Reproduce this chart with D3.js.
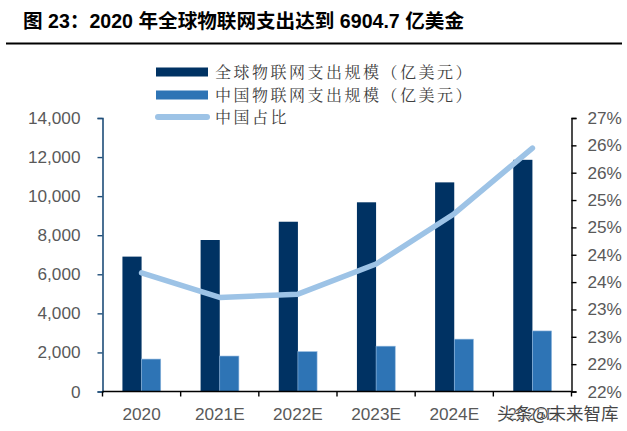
<!DOCTYPE html>
<html><head><meta charset="utf-8">
<script src="https://cdn.jsdelivr.net/npm/d3@7"></script>
<style>
html,body{margin:0;padding:0;background:#fff;}
svg{display:block;}
</style></head>
<body>
<svg id="chart" width="627" height="431"></svg>
<script>
const categories = ["2020", "2021E", "2022E", "2023E", "2024E", "2025E"];
const globalSpend = [6904.7, 7755, 8690, 9685, 10705, 11860];
const chinaSpend = [1660, 1815, 2040, 2320, 2680, 3100];
const chinaShare = [0.2417, 0.2372, 0.2378, 0.2433, 0.2525, 0.2645];
const leftTicks = [0, 2000, 4000, 6000, 8000, 10000, 12000, 14000];
const rightTicks = [0.22, 0.225, 0.23, 0.235, 0.24, 0.245, 0.25, 0.255, 0.26, 0.265, 0.27];
const rightTickLabels = ["22%", "22%", "23%", "23%", "24%", "24%", "25%", "25%", "26%", "26%", "27%"];
const seriesNames = ["全球物联网支出规模（亿美元）", "中国物联网支出规模（亿美元）", "中国占比"];
const titleText = "图 23：2020 年全球物联网支出达到 6904.7 亿美金";
const watermark = "头条@未来智库";

const C_DARK = "#003263", C_MID = "#2E74B5", C_LINE = "#9DC3E6", C_TXT = "#595959";
const svg = d3.select("#chart");
const L = 102.5, R = 571.5, T = 118, B = 391.5;

// title
svg.append("text").attr("x", 23).attr("y", 28)
  .attr("font-family", "Liberation Sans, Arial, 'Noto Sans CJK SC', sans-serif")
  .attr("font-weight", "bold").attr("font-size", 19.6).attr("fill", "#000")
  .text(titleText);
svg.append("line").attr("x1", 6).attr("x2", 622).attr("y1", 43.5).attr("y2", 43.5)
  .attr("stroke", "#000").attr("stroke-width", 2.2);

const x = d3.scaleBand().domain(categories).range([L, R]).paddingInner(0).paddingOuter(0);
const yL = d3.scaleLinear().domain([0, 14000]).range([B, T]);
const yR = d3.scaleLinear().domain([0.22, 0.27]).range([B, T]);
const bw = x.bandwidth() * 0.245;

const font = "Liberation Sans, Arial, sans-serif";
const fs = 17.2;

// bars
svg.append("g").selectAll("rect").data(categories).join("rect")
  .attr("x", d => x(d) + x.bandwidth() / 2 - bw)
  .attr("y", (d, i) => yL(globalSpend[i]))
  .attr("width", bw).attr("height", (d, i) => B - yL(globalSpend[i]))
  .attr("fill", C_DARK);
svg.append("g").selectAll("rect").data(categories).join("rect")
  .attr("x", d => x(d) + x.bandwidth() / 2)
  .attr("y", (d, i) => yL(chinaSpend[i]))
  .attr("width", bw).attr("height", (d, i) => B - yL(chinaSpend[i]))
  .attr("fill", C_MID).attr("stroke", "#8fb6de").attr("stroke-width", 0.6);

// left axis
const gL = svg.append("g").attr("transform", `translate(${L},0)`)
  .call(d3.axisLeft(yL).tickValues(leftTicks).tickFormat(d3.format(",")).tickSize(5).tickPadding(17));
gL.select(".domain").attr("stroke", "#1F4E79").attr("stroke-width", 1.6);
gL.selectAll(".tick line").attr("stroke", "#1F4E79").attr("stroke-width", 1.4);
gL.selectAll("text").attr("font-family", font).attr("font-size", fs).attr("fill", C_TXT);

// right axis
const gR = svg.append("g").attr("transform", `translate(${R},0)`)
  .call(d3.axisRight(yR).tickValues(rightTicks).tickFormat((d, i) => rightTickLabels[i]).tickSize(5).tickPadding(11));
gR.select(".domain").attr("stroke", "#000").attr("stroke-width", 1.4);
gR.selectAll(".tick line").attr("stroke", "#000").attr("stroke-width", 1.4);
gR.selectAll("text").attr("font-family", font).attr("font-size", fs).attr("fill", C_TXT);

// bottom axis
const gB = svg.append("g").attr("transform", `translate(0,${B})`);
gB.append("line").attr("x1", L).attr("x2", R).attr("stroke", "#000").attr("stroke-width", 1.4);
const bounds = categories.map(c => x(c)).concat([R]);
gB.selectAll("line.t").data(bounds).join("line").attr("class", "t")
  .attr("x1", d => d).attr("x2", d => d).attr("y1", 0).attr("y2", 5)
  .attr("stroke", "#000").attr("stroke-width", 1.4);
gB.selectAll("text").data(categories).join("text")
  .attr("x", d => x(d) + x.bandwidth() / 2).attr("y", 28)
  .attr("text-anchor", "middle").attr("font-family", font).attr("font-size", fs)
  .attr("fill", C_TXT).text(d => d);

// line
const line = d3.line().x((d, i) => x(categories[i]) + x.bandwidth() / 2).y(d => yR(d));
svg.append("path").datum(chinaShare).attr("d", line)
  .attr("fill", "none").attr("stroke", C_LINE).attr("stroke-width", 5.5)
  .attr("stroke-linecap", "round").attr("stroke-linejoin", "round");

// legend
const lg = svg.append("g");
const lfont = "'Noto Serif CJK SC', 'Noto Sans CJK SC', sans-serif";
const rows = [72, 95, 117];
lg.append("rect").attr("x", 156).attr("y", rows[0] - 4.5).attr("width", 52).attr("height", 9).attr("fill", C_DARK);
lg.append("rect").attr("x", 156).attr("y", rows[1] - 4.5).attr("width", 52).attr("height", 9).attr("fill", C_MID);
lg.append("line").attr("x1", 158).attr("x2", 207).attr("y1", rows[2]).attr("y2", rows[2])
  .attr("stroke", C_LINE).attr("stroke-width", 6).attr("stroke-linecap", "round");
lg.selectAll("text").data(seriesNames).join("text")
  .attr("x", 215).attr("y", (d, i) => rows[i]).attr("dy", "0.36em")
  .attr("font-family", lfont).attr("font-size", 16).attr("letter-spacing", 2.5)
  .attr("fill", "#404040").text(d => d);

// watermark
svg.append("text").attr("x", 497).attr("y", 420)
  .attr("font-family", "'Noto Sans CJK SC', sans-serif").attr("font-size", 17.5)
  .attr("fill", "#333").attr("stroke", "#fff").attr("stroke-width", 0.8).attr("paint-order", "stroke")
  .attr("opacity", 0.9).text(watermark);
</script>
</body></html>
